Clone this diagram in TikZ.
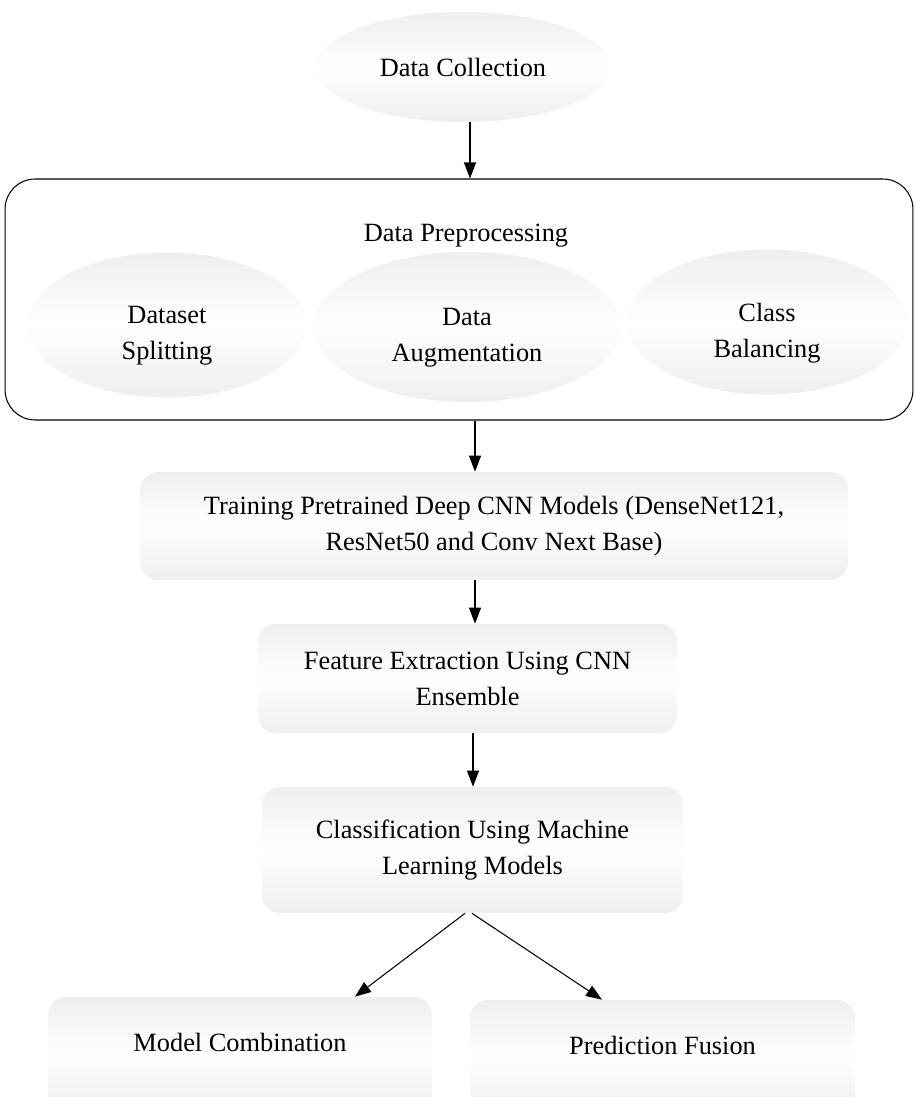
\documentclass[tikz,border=0pt]{standalone}
\usepackage{fontspec}
\setmainfont{Liberation Serif}
\usepackage{tikz}
\usetikzlibrary{shapes.geometric,arrows.meta}
\tikzset{shaded/.style={top color=gray!13,bottom color=gray!13,middle color=white},
	oval/.style={ellipse,shaded,inner sep=0pt},
	every label/.style={align=center,yshift=-0.22cm},
	stage/.style={rectangle,rounded corners=0.35cm,shaded,align=center,inner sep=0pt},
	flow/.style={-{Triangle[length=0.32cm,width=0.24cm]},line width=0.6pt}}
\newcommand{\ovalpt}[5]{\node[oval,minimum width=#3,minimum height=#4,label={center:#5}] at (#1) (#2) {}}
\newcommand{\stagebox}[5]{\node[stage,minimum width=#3,minimum height=#4] at (#1) (#2) {#5}}

\begin{document}
\begin{tikzpicture}[x=0.02cm,y=-0.02cm,font=\fontsize{15}{20.4}\selectfont]
		\useasboundingbox (0,0) rectangle (915,1097);
		\node[oval,minimum width=5.9cm,minimum height=2.2cm] at (463,67) (collect) {Data Collection};
		
		\node[draw,line width=0.6pt,rounded corners=0.6cm,minimum width=18.16cm,minimum height=4.82cm] at (459,299.5) (prep) {};
		\node at (466,236) (preplabel) {Data Preprocessing};
		\ovalpt{167,325}{split}{5.58cm}{2.9cm}{Dataset\\Splitting};
		\ovalpt{467,327}{augment}{6.14cm}{3cm}{Data\\Augmentation};
		\ovalpt{767,322}{balance}{5.6cm}{2.9cm}{Class\\Balancing};
		
		\stagebox{494,526}{train}{14.16cm}{2.16cm}{Training Pretrained Deep CNN Models (DenseNet121,\\ResNet50 and Conv Next Base)};
		\stagebox{467.5,678.5}{feature}{8.38cm}{2.18cm}{Feature Extraction Using CNN\\Ensemble};
		\stagebox{472.5,850}{classify}{8.42cm}{2.52cm}{Classification Using Machine\\Learning Models};
		% bottom boxes run past the page edge
		\node[stage,minimum width=7.68cm,minimum height=2.26cm,label={[yshift=0.44cm]center:Model Combination}] at (240,1053.5) (combine) {};
		\node[stage,minimum width=7.7cm,minimum height=2.26cm,label={[yshift=0.44cm]center:Prediction Fusion}] at (662.5,1056.5) (fusion) {};
		
		\draw[flow] (collect.south -| 470,0) -- (prep.north -| 470,0);
		\draw[flow] (prep.south -| 475,0) -- (train.north -| 475,0);
		\draw[flow] (train.south -| 475,0) -- (feature.north -| 475,0);
		\draw[flow] (feature.south -| 473,0) -- (classify.north -| 473,0);
		\draw[flow] (classify.south -| 465,0) -- (combine.north -| 355,0);
		\draw[flow] (classify.south -| 472,0) -- (fusion.north -| 602,0);
	\end{tikzpicture}
\end{document}
